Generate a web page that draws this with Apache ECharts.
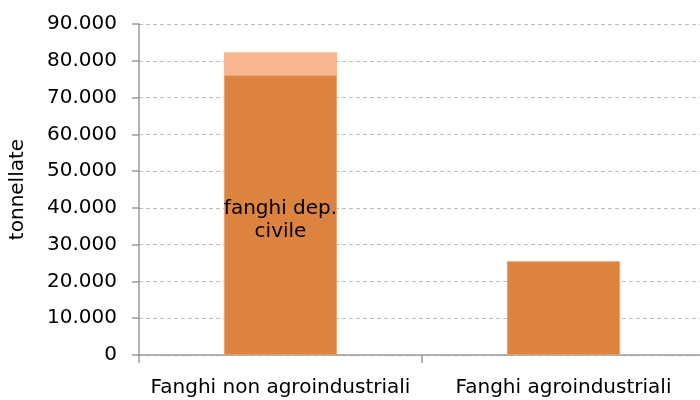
<!DOCTYPE html>
<html>
<head>
<meta charset="utf-8">
<script src="https://cdn.jsdelivr.net/npm/echarts@6/dist/echarts.min.js"></script>
<style>
  html, body { margin: 0; padding: 0; background: #fff; }
  #chart { width: 700px; height: 400px; }
</style>
</head>
<body>
<div id="chart"></div>
<script>
// Categorie e valori (tonnellate)
const categories = ['Fanghi non agroindustriali', 'Fanghi agroindustriali'];
const fanghiDepCivile = [76100, 25500];
const altriFanghi = [6200, 0];
const segmentLabels = ['fanghi dep.\ncivile', ''];

const fmt = v => String(v).replace(/\B(?=(\d{3})+(?!\d))/g, '.');

const chart = echarts.init(document.getElementById('chart'), null, { renderer: 'canvas' });
const font = 'DejaVu Sans';

chart.setOption({
  animation: false,
  backgroundColor: '#ffffff',
  grid: { left: 139, top: 24, bottom: 45, width: 566, containLabel: false, outerBoundsMode: 'none' },
  xAxis: {
    type: 'category',
    data: categories,
    axisLine: { lineStyle: { color: '#9a9a9a', width: 1.5 } },
    axisTick: { show: true, length: 8, lineStyle: { color: '#9a9a9a', width: 1.5 } },
    axisLabel: { color: '#000', fontFamily: font, fontSize: 20, margin: 23, interval: 0, hideOverlap: false }
  },
  yAxis: {
    type: 'value',
    min: 0, max: 90000, interval: 10000,
    name: 'tonnellate',
    nameLocation: 'middle',
    nameGap: 111,
    nameTextStyle: { color: '#000', fontFamily: font, fontSize: 20 },
    axisLine: { show: true, lineStyle: { color: '#9a9a9a', width: 1.5 } },
    axisTick: { show: true, length: 7, lineStyle: { color: '#9a9a9a', width: 1.5 } },
    axisLabel: { color: '#000', fontFamily: font, fontSize: 20, margin: 22, formatter: fmt },
    splitLine: { lineStyle: { color: '#bdbdbd', type: [4, 3], width: 1 } }
  },
  series: [
    {
      type: 'bar',
      stack: 'tot',
      barWidth: '40%',
      data: fanghiDepCivile.map((v, i) => ({
        value: v,
        label: {
          show: segmentLabels[i] !== '',
          formatter: segmentLabels[i],
          position: 'inside',
          offset: [0, 5],
          color: '#000',
          fontFamily: font,
          fontSize: 20,
          lineHeight: 23
        }
      })),
      itemStyle: { color: '#DB833F', borderColor: '#EFA06A', borderWidth: 1 }
    },
    {
      type: 'bar',
      stack: 'tot',
      barWidth: '40%',
      data: altriFanghi.map(v => (v > 0 ? v : '-')),
      itemStyle: { color: '#F9B590' }
    }
  ]
});
</script>
</body>
</html>
